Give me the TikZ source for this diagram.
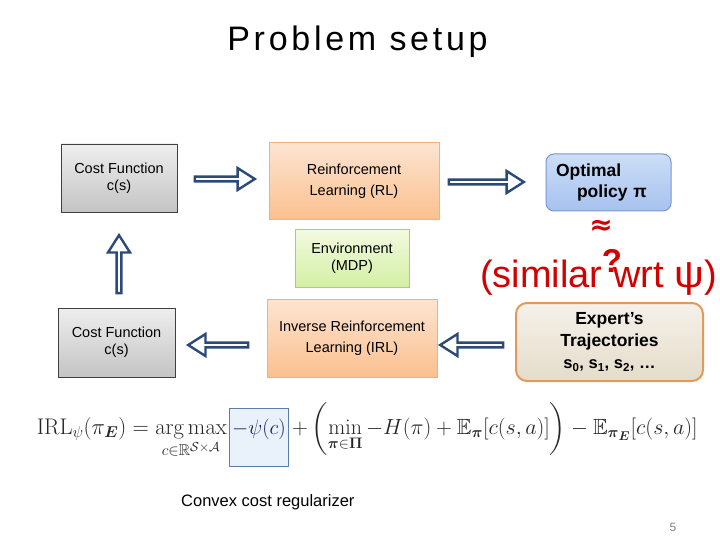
\documentclass[tikz,border=0pt]{standalone}
\usepackage{amsmath,amssymb}
\usepackage[no-math]{fontspec}
\setmainfont{Liberation Sans}
\newfontfamily\symfont{DejaVu Sans}
\usetikzlibrary{shapes.arrows}
\definecolor{arrowblue}{HTML}{2B4A78}
\definecolor{grayborder}{HTML}{404040}
\definecolor{graytop}{HTML}{EEEEEE}
\definecolor{graybot}{HTML}{C4C4C4}
\definecolor{orangeborder}{HTML}{EFB27F}
\definecolor{orangetop}{HTML}{FDE4D2}
\definecolor{orangebot}{HTML}{FBC08E}
\definecolor{greenborder}{HTML}{A9C98A}
\definecolor{greentop}{HTML}{F2FADF}
\definecolor{greenbot}{HTML}{D3EFA3}
\definecolor{blueborder}{HTML}{7A96D0}
\definecolor{bluetop}{HTML}{CCDEF8}
\definecolor{bluebot}{HTML}{A6C2EE}
\definecolor{expertborder}{HTML}{E29A5A}
\definecolor{experttop}{HTML}{F5F1EA}
\definecolor{expertbot}{HTML}{E5DCCA}
\definecolor{redtext}{HTML}{D40000}
\definecolor{formulabox}{HTML}{E9F1FA}
\definecolor{formulaborder}{HTML}{5A7EA8}
\definecolor{formulatext}{HTML}{262626}
\begin{document}
\begin{tikzpicture}[x=1pt,y=-1pt,
  graybox/.style={draw=grayborder, line width=0.8pt, top color=graytop, bottom color=graybot,
    inner sep=0pt, align=center, font=\fontsize{14.5}{17}\selectfont},
  orangebox/.style={draw=orangeborder, line width=1pt, top color=orangetop, bottom color=orangebot,
    inner sep=0pt, align=center, font=\fontsize{14.5}{20.5}\selectfont},
  greenbox/.style={draw=greenborder, line width=1pt, top color=greentop, bottom color=greenbot,
    inner sep=0pt, align=center, font=\fontsize{14.5}{17}\selectfont},
  barrow/.style={single arrow, draw=arrowblue, fill=white, line width=2.4pt, inner sep=0pt,
    minimum width=22pt, single arrow head extend=4.5pt, single arrow tip angle=65, minimum height=#1},
  redtxt/.style={text=redtext, inner sep=0pt},
  mathtxt/.style={inner sep=0pt, text=formulatext, font=\fontsize{20.74}{24}\selectfont}
]
\path[use as bounding box, fill=white] (0,0) rectangle (720,540);

% title
\node[anchor=base, inner sep=0pt] (title) at (357.5,51)
  {\fontsize{34}{36}\selectfont\addfontfeature{LetterSpace=11}Problem setup};

% boxes
\node[graybox, minimum width=116pt, minimum height=68pt] (cost1) at (119,178) {Cost Function\\c(s)};
\node[orangebox, minimum width=170pt, minimum height=77pt] (rl) at (354,181.5) {Reinforcement\\Learning (RL)};
\node[greenbox, minimum width=114pt, minimum height=57pt] (env) at (352,258.5) {Environment\\(MDP)};
\node[orangebox, minimum width=170pt, minimum height=78pt] (irl) at (352,338) {Inverse Reinforcement\\Learning (IRL)};
\node[graybox, minimum width=117pt, minimum height=69pt] (cost2) at (116.5,342.5) {Cost Function\\c(s)};

\node[draw=blueborder, line width=1pt, rounded corners=8pt, top color=bluetop, bottom color=bluebot,
  minimum width=125pt, minimum height=57pt, text width=105pt, inner xsep=10pt, inner ysep=0pt, align=left,
  font=\bfseries\fontsize{17.5}{21}\selectfont] (opt) at (608.5,182.5)
  {Optimal\\\hspace*{21pt}policy π};

\node[draw=expertborder, line width=2pt, rounded corners=11pt, top color=experttop, bottom color=expertbot,
  minimum width=187pt, minimum height=78pt, inner sep=0pt, align=center,
  font=\bfseries\fontsize{17.5}{22}\selectfont] (expert) at (609.5,342)
  {Expert’s\\Trajectories\\{\fontsize{16.5}{22}\selectfont s\textsubscript{0}, s\textsubscript{1}, s\textsubscript{2}, …}};

% block arrows
\node[barrow=60pt] (a1) at (223,179) {};
\node[barrow=75pt] (a2) at (484.5,182) {};
\node[barrow=58pt, rotate=90] (a3) at (119,266) {};
\node[barrow=60pt, rotate=180] (a4) at (220,345) {};
\node[barrow=63pt, rotate=180] (a5) at (473.5,345) {};

% similarity
\node[redtxt, font=\symfont\bfseries\fontsize{28}{30}\selectfont] (approx) at (601,227.5) {≈};
\node[redtxt, anchor=base west, font=\fontsize{38}{41}\selectfont] (sim) at (480,287)
  {(similar wrt \scalebox{1.1}[1]{ψ})};
\node[redtxt, anchor=base, font=\bfseries\fontsize{33}{35}\selectfont] (qmark) at (612,272) {?};

% formula
\node[draw=formulaborder, fill=formulabox, line width=0.8pt, minimum width=59pt, minimum height=58pt, inner sep=0pt] (psibox) at (258.5,437) {};
\node[mathtxt, anchor=base east] (lhs) at (227,434)
  {\scalebox{1.09}{$\displaystyle \mathrm{IRL}_{\psi}(\pi_{\boldsymbol{E}}) = \operatorname*{arg\,max}_{c\in\mathbb{R}^{\mathcal{S}\times\mathcal{A}}}$}};
\node[mathtxt, anchor=base, text=formulatext!75!blue] (psi) at (259,434)
  {$-\psi(c)$};
\node[mathtxt, anchor=base west] (rhs) at (292,434)
  {\scalebox{1.06}{$\displaystyle +\left(\min_{\boldsymbol{\pi}\in\boldsymbol{\Pi}} -H(\pi)+\mathbb{E}_{\boldsymbol{\pi}}[c(s,a)]\right)-\mathbb{E}_{\boldsymbol{\pi}_{\boldsymbol{E}}}[c(s,a)]$}};

\node[anchor=base west, inner sep=0pt, font=\fontsize{16.5}{19}\selectfont] (conv) at (181,506) {Convex cost regularizer};
\node[anchor=base, inner sep=0pt, text=gray, font=\fontsize{12}{14}\selectfont] (page) at (673,531) {5};
\end{tikzpicture}
\end{document}
